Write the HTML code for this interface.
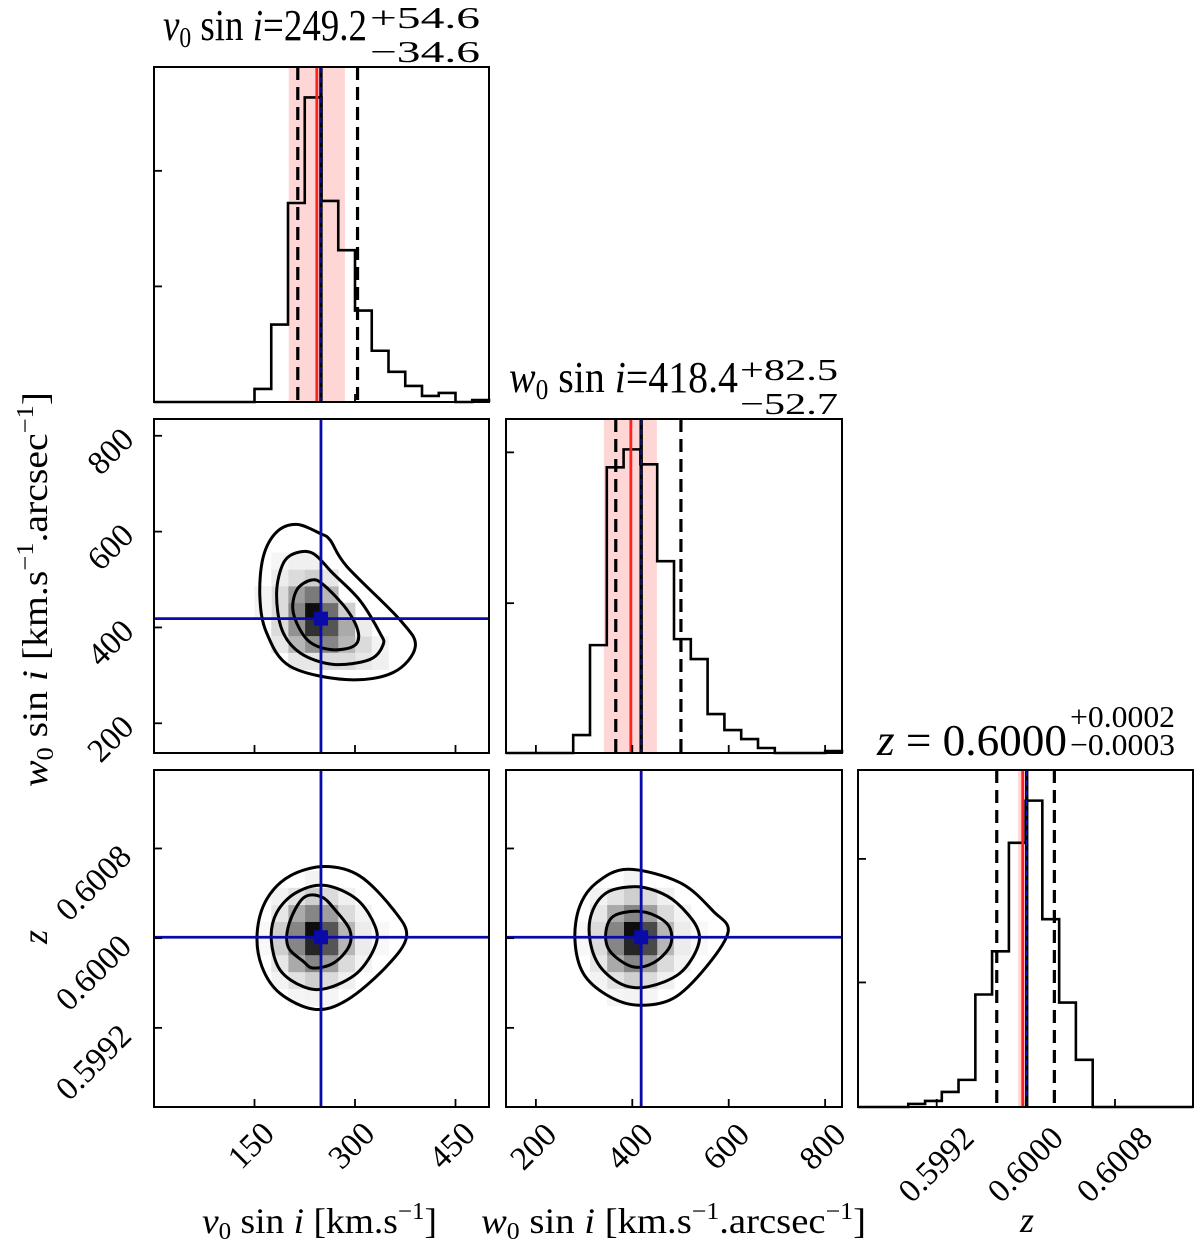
<!DOCTYPE html>
<html><head><meta charset="utf-8"><style>
html,body{margin:0;padding:0;background:#fff;}
svg{display:block;font-family:"Liberation Serif",serif;}
</style></head><body>
<svg id="fig" width="1200" height="1248" viewBox="0 0 1200 1248" xmlns="http://www.w3.org/2000/svg">
<g id="marks"></g>
<g id="frames"></g>
<!-- titles -->
<text font-size="44" x="163" y="40" textLength="204" lengthAdjust="spacingAndGlyphs"><tspan font-style="italic">v</tspan><tspan font-size="28" dy="7">0</tspan><tspan dy="-7"> sin </tspan><tspan font-style="italic">i</tspan><tspan>=249.2</tspan></text>
<text font-size="31" x="370" y="28" textLength="110" lengthAdjust="spacingAndGlyphs">+54.6</text>
<text font-size="31" x="370" y="62" textLength="110" lengthAdjust="spacingAndGlyphs">−34.6</text>

<text font-size="44" x="509" y="392" textLength="229" lengthAdjust="spacingAndGlyphs"><tspan font-style="italic">w</tspan><tspan font-size="28" dy="7">0</tspan><tspan dy="-7"> sin </tspan><tspan font-style="italic">i</tspan><tspan>=418.4</tspan></text>
<text font-size="31" x="740" y="380" textLength="98" lengthAdjust="spacingAndGlyphs">+82.5</text>
<text font-size="31" x="740" y="414" textLength="98" lengthAdjust="spacingAndGlyphs">−52.7</text>

<text font-size="44" x="877" y="755" textLength="190" lengthAdjust="spacingAndGlyphs"><tspan font-style="italic">z</tspan><tspan> = 0.6000</tspan></text>
<text font-size="31" x="1070" y="727" textLength="105" lengthAdjust="spacingAndGlyphs">+0.0002</text>
<text font-size="31" x="1070" y="755" textLength="105" lengthAdjust="spacingAndGlyphs">−0.0003</text>

<!-- axis labels -->
<text font-size="36" x="202" y="1233" textLength="235" lengthAdjust="spacingAndGlyphs"><tspan font-style="italic">v</tspan><tspan font-size="24" dy="6">0</tspan><tspan dy="-6"> sin </tspan><tspan font-style="italic">i</tspan><tspan> [km.s</tspan><tspan font-size="24" dy="-14">−1</tspan><tspan dy="14">]</tspan></text>
<text font-size="36" x="481" y="1233" textLength="385" lengthAdjust="spacingAndGlyphs"><tspan font-style="italic">w</tspan><tspan font-size="24" dy="6">0</tspan><tspan dy="-6"> sin </tspan><tspan font-style="italic">i</tspan><tspan> [km.s</tspan><tspan font-size="24" dy="-14">−1</tspan><tspan dy="14">.arcsec</tspan><tspan font-size="24" dy="-14">−1</tspan><tspan dy="14">]</tspan></text>
<text font-size="36" x="1027" y="1232" text-anchor="middle" font-style="italic">z</text>
<text font-size="36" transform="translate(47,787) rotate(-90)" x="0" y="0" textLength="395" lengthAdjust="spacingAndGlyphs"><tspan font-style="italic">w</tspan><tspan font-size="24" dy="6">0</tspan><tspan dy="-6"> sin </tspan><tspan font-style="italic">i</tspan><tspan> [km.s</tspan><tspan font-size="24" dy="-14">−1</tspan><tspan dy="14">.arcsec</tspan><tspan font-size="24" dy="-14">−1</tspan><tspan dy="14">]</tspan></text>
<text font-size="36" transform="translate(47,937) rotate(-90)" text-anchor="middle" font-style="italic">z</text>
</svg>
<script>
// ---- data ----
const vEdges = [0,25,50,75,100,125,150,175,200,225,250,275,300,325,350,375,400,425,450,475,500];
const vCounts = [0,0,0,0,0,0,13,77,198,303,200,151,91,51,30,16,6,9,0,2];
const wEdges = [138,172.85,207.7,242.55,277.4,312.25,347.1,381.95,416.8,451.65,486.5,521.35,556.2,591.05,625.9,660.75,695.6,730.45,765.3,800.15,835];
const wCounts = [0,0,0,0,18,108,286,304,289,192,114,94,39,23,14,5,0,0,0,2];
const zEdges = [0.598494,0.598644,0.598795,0.598945,0.599096,0.599246,0.599396,0.599547,0.599697,0.599848,0.599998,0.600148,0.600299,0.600449,0.600600,0.600750,0.600900,0.601051,0.601201,0.601352,0.6015];
const zCounts = [0,0,0,3,6,15,27,112,155,263,305,187,104,47,0,0,0,0,0,0];

const vTicks = [150,300,450];
const vTickLabels = ["150","300","450"];
const wTicks = [200,400,600,800];
const wTickLabels = ["200","400","600","800"];
const zTicks = [0.5992,0.6000,0.6008];
const zTickLabels = ["0.5992","0.6000","0.6008"];
const vHistTicks = [115,230];
const wHistTicks = [150,301];
const zHistTicks = [124,247];

const vTruth = 249.2, wTruth = 418.4, zTruth = 0.600008;
const vQuant = [214.6,303.8], wQuant = [365.7,500.9], zQuant = [0.599739,0.600256];
const vRed = 243, wRed = 397, zRed = 0.599972;
const vBand = [201,285], wBand = [341,451], zBand = [0.59993,0.60001];

const vwOuter = [[213,615],[183,599],[163,547],[158,464],[168,389],[203,319],[288,291],[357,306],[390,360],[367,416],[288,527],[263,582],[248,596]];
const vwMid = [[213,556],[238,554],[267,513],[307,457],[337,389],[342,364],[322,333],[267,323],[218,347],[191,395],[183,472],[193,534]];
const vwInner = [[235,499],[253,489],[288,437],[305,389],[298,361],[263,354],[229,374],[208,430],[213,478]];
const vzOuter = [[255,0.600639],[203,0.600555],[168,0.600345],[154,0.600047],[161,0.599747],[188,0.599508],[240,0.599365],[288,0.599448],[347,0.599747],[377,0.600016],[357,0.600256],[307,0.600555]];
const vzMid = [[255,0.600471],[212,0.600406],[183,0.600226],[175,0.599987],[188,0.599717],[223,0.599567],[258,0.599553],[303,0.599688],[330,0.599926],[330,0.600106],[303,0.600345]];
const vzInner = [[250,0.600368],[223,0.600359],[202,0.600136],[200,0.599926],[223,0.599792],[238,0.599733],[268,0.599778],[291,0.599926],[292,0.600076],[272,0.600240]];
const wzOuter = [[391,0.600615],[326,0.600495],[291,0.600285],[281,0.599987],[298,0.599688],[347,0.599493],[409,0.599403],[485,0.599463],[554,0.599747],[599,0.600061],[568,0.600240],[499,0.600495]];
const wzMid = [[402,0.600459],[347,0.600406],[316,0.600226],[312,0.599987],[333,0.599747],[381,0.599583],[433,0.599567],[499,0.599688],[536,0.599926],[533,0.600106],[492,0.600316],[450,0.600420]];
const wzInner = [[409,0.600240],[361,0.600196],[345,0.600047],[354,0.599882],[399,0.599747],[443,0.599778],[478,0.599926],[478,0.600091],[450,0.600196]];

const vwCells = [[9,8,1],[9,7,0.85],[10,7,0.7],[10,8,0.6],[8,8,0.5],[8,9,0.4],[9,9,0.55],[10,9,0.3],[8,7,0.45],[9,6,0.45],[10,6,0.5],[11,7,0.35],[11,6,0.3],[8,6,0.3],[7,8,0.15],[7,9,0.15],[8,10,0.15],[9,10,0.2],[7,7,0.15],[11,8,0.2],[12,6,0.15],[12,5,0.1],[11,5,0.15],[10,5,0.15],[9,5,0.1],[8,5,0.1],[7,10,0.08],[8,11,0.06],[9,11,0.06],[10,10,0.1],[13,5,0.06],[7,6,0.1],[6,8,0.05],[6,9,0.05],[7,11,0.04],[12,7,0.08],[13,6,0.05]];
const vzCells = [[9,10,1],[9,9,0.9],[10,10,0.7],[10,9,0.7],[8,10,0.5],[8,9,0.5],[9,11,0.5],[9,8,0.5],[10,11,0.4],[10,8,0.4],[8,11,0.35],[8,8,0.35],[11,10,0.3],[11,9,0.3],[7,10,0.2],[7,9,0.2],[9,12,0.2],[9,7,0.2],[10,12,0.15],[10,7,0.15],[8,12,0.12],[8,7,0.12],[11,11,0.15],[11,8,0.15],[12,10,0.08],[12,9,0.08],[7,11,0.1],[7,8,0.1],[11,12,0.06],[11,7,0.06],[7,12,0.05],[7,7,0.05],[9,13,0.05],[9,6,0.05],[10,6,0.04],[8,6,0.04],[12,11,0.05],[12,8,0.05],[13,10,0.03],[13,9,0.03],[6,10,0.03],[6,9,0.03]];
const wzCells = [[7,10,1],[7,9,0.9],[8,10,0.75],[8,9,0.75],[6,10,0.5],[6,9,0.5],[7,11,0.5],[7,8,0.5],[8,11,0.4],[8,8,0.4],[6,11,0.35],[6,8,0.35],[9,10,0.3],[9,9,0.3],[5,10,0.15],[5,9,0.15],[7,12,0.2],[7,7,0.2],[8,12,0.15],[8,7,0.15],[6,12,0.12],[6,7,0.12],[9,11,0.15],[9,8,0.15],[10,10,0.08],[10,9,0.08],[5,11,0.1],[5,8,0.1],[9,12,0.06],[9,7,0.06],[5,12,0.05],[5,7,0.05],[7,13,0.05],[7,6,0.05],[8,6,0.04],[6,6,0.04],[10,11,0.05],[10,8,0.05],[11,10,0.03],[11,9,0.03],[4,10,0.03],[4,9,0.03]];

// ---- geometry ----
const NS = "http://www.w3.org/2000/svg";
const cols = [[154,489],[506,842],[858,1193]];
const rows = [[67,402],[419,753],[770,1107]];
function lin(d0,d1,r0,r1){ return v => r0 + (v-d0)/(d1-d0)*(r1-r0); }
const vX = lin(0,500,cols[0][0],cols[0][1]);
const wX = lin(138,835,cols[1][0],cols[1][1]);
const zX = lin(0.598494,0.6015,cols[2][0],cols[2][1]);
const wY = lin(138,835,rows[1][1],rows[1][0]);
const zY = lin(0.598494,0.6015,rows[2][1],rows[2][0]);
const marks = document.getElementById('marks');
const frames = document.getElementById('frames');
function mk(tag, attrs, parent){
  const el = document.createElementNS(NS, tag);
  for (const k in attrs) el.setAttribute(k, attrs[k]);
  (parent||marks).appendChild(el);
  return el;
}
function smooth(pts){
  const n = pts.length; let d = 'M'+pts[0][0]+','+pts[0][1];
  for (let i=0;i<n;i++){
    const p0=pts[(i-1+n)%n], p1=pts[i], p2=pts[(i+1)%n], p3=pts[(i+2)%n];
    const c1=[p1[0]+(p2[0]-p0[0])/6, p1[1]+(p2[1]-p0[1])/6];
    const c2=[p2[0]-(p3[0]-p1[0])/6, p2[1]-(p3[1]-p1[1])/6];
    d += 'C'+c1[0]+','+c1[1]+' '+c2[0]+','+c2[1]+' '+p2[0]+','+p2[1];
  }
  return d+'Z';
}

// ---- 1D histograms ----
function hist(name, edges, counts, X, row, col, ticksY, quant, red, band, truth){
  const y0 = rows[row][1], y1 = rows[row][0];
  const maxC = Math.max(...counts) * 1.1;
  const Y = lin(0, maxC, y0, y1);
  const b = mk('rect', {x:X(band[0]), y:y1, width:X(band[1])-X(band[0]), height:y0-y1, fill:'#ffd6d6'});
  
  
  let d = 'M'+X(edges[0])+','+y0;
  for (let i=0;i<counts.length;i++){ d += 'L'+X(edges[i])+','+Y(counts[i])+'L'+X(edges[i+1])+','+Y(counts[i]); }
  d += 'L'+X(edges[edges.length-1])+','+y0;
  const h = mk('path', {d:d, fill:'none', stroke:'#000', 'stroke-width':2.6});
  
  
  quant.forEach((q,i)=>{
    const l = mk('line', {x1:X(q), x2:X(q), y1:y1, y2:y0, stroke:'#000', 'stroke-width':3.2, 'stroke-dasharray':'13,7'});
    
    
  });
  const r = mk('line', {x1:X(red), x2:X(red), y1:y1, y2:y0, stroke:'#ff2020', 'stroke-width':2.8});
  
  
  const t = mk('line', {x1:X(truth), x2:X(truth), y1:y1, y2:y0, stroke:'#000', 'stroke-width':3.4});
  
  
  const tb = mk('line', {x1:X(truth), x2:X(truth), y1:y1, y2:y0, stroke:'#1010c0', 'stroke-width':1.3, 'stroke-dasharray':'6,4'});
  
  
  ticksY.forEach(tv=>{
    const tk = mk('line', {x1:cols[col][0], x2:cols[col][0]+8, y1:Y(tv), y2:Y(tv), stroke:'#000', 'stroke-width':1.8}, frames);
    
    
  });
}
hist('v0-hist', vEdges, vCounts, vX, 0, 0, vHistTicks, vQuant, vRed, vBand, vTruth);
hist('w0-hist', wEdges, wCounts, wX, 1, 1, wHistTicks, wQuant, wRed, wBand, wTruth);
hist('z-hist', zEdges, zCounts, zX, 2, 2, zHistTicks, zQuant, zRed, zBand, zTruth);

// ---- 2D panels ----
function panel2d(name, cells, xEdges, yEdges, X, Y, conts, tx, ty, row, col){
  cells.forEach(c=>{
    const g = Math.round(255*(1-c[2]*0.95));
    const x0 = X(xEdges[c[0]]), x1 = X(xEdges[c[0]+1]);
    const ya = Y(yEdges[c[1]]), yb = Y(yEdges[c[1]+1]);
    const r = mk('rect', {x:x0, y:Math.min(ya,yb), width:x1-x0+0.4, height:Math.abs(ya-yb)+0.4, fill:'rgb('+g+','+g+','+g+')'});
    
    
  });
  conts.forEach((c,i)=>{
    const p = mk('path', {d:smooth(c.map(q=>[X(q[0]),Y(q[1])])), fill:'none', stroke:'#000', 'stroke-width':3});
    
    
  });
  const lv = mk('line', {x1:X(tx), x2:X(tx), y1:rows[row][0], y2:rows[row][1], stroke:'#0a0aa8', 'stroke-width':2.8});
  
  
  const lh = mk('line', {x1:cols[col][0], x2:cols[col][1], y1:Y(ty), y2:Y(ty), stroke:'#0a0aa8', 'stroke-width':2.8});
  
  
  const m = mk('rect', {x:X(tx)-7, y:Y(ty)-7, width:14, height:14, fill:'#0a0aa8'});
  
  
}
panel2d('v0-w0-panel', vwCells, vEdges, wEdges, vX, wY, [vwOuter,vwMid,vwInner], vTruth, wTruth, 1, 0);
panel2d('v0-z-panel', vzCells, vEdges, zEdges, vX, zY, [vzOuter,vzMid,vzInner], vTruth, zTruth, 2, 0);
panel2d('w0-z-panel', wzCells, wEdges, zEdges, wX, zY, [wzOuter,wzMid,wzInner], wTruth, zTruth, 2, 1);

// ---- frames & ticks ----
const panels = [[0,0],[1,0],[1,1],[2,0],[2,1],[2,2]];
panels.forEach(p=>{
  const r = mk('rect', {x:cols[p[1]][0], y:rows[p[0]][0], width:cols[p[1]][1]-cols[p[1]][0], height:rows[p[0]][1]-rows[p[0]][0], fill:'none', stroke:'#000', 'stroke-width':2}, frames);
  
  
});
const xAx = [[vX,vTicks],[wX,wTicks],[zX,zTicks]];
panels.forEach(p=>{
  const a = xAx[p[1]]; const yb = rows[p[0]][1];
  a[1].forEach(t=>{
    const tk = mk('line', {x1:a[0](t), x2:a[0](t), y1:yb, y2:yb-8, stroke:'#000', 'stroke-width':1.8}, frames);
    
    
  });
});
[[1,0,wY,wTicks],[2,0,zY,zTicks],[2,1,zY,zTicks]].forEach(q=>{
  q[3].forEach(t=>{
    const tk = mk('line', {x1:cols[q[1]][0], x2:cols[q[1]][0]+8, y1:q[2](t), y2:q[2](t), stroke:'#000', 'stroke-width':1.8}, frames);
    
    
  });
});
function rotLabel(name, txt, cx, cy){
  const t = mk('text', {x:0, y:0, 'font-size':33, 'text-anchor':'middle', 'dominant-baseline':'central', transform:'translate('+cx+','+cy+') rotate(-45)'}, frames);
  t.textContent = txt;
  
  
}
vTicks.forEach((t,i)=>rotLabel('x-tick-label-v0', vTickLabels[i], vX(t)-3, 1146));
wTicks.forEach((t,i)=>rotLabel('x-tick-label-w0', wTickLabels[i], wX(t)-2, 1147));
zTicks.forEach((t,i)=>rotLabel('x-tick-label-z', zTickLabels[i], zX(t), 1165));
wTicks.forEach((t,i)=>rotLabel('y-tick-label-w0', wTickLabels[i], 111, wY(t)+16));
zTicks.forEach((t,i)=>rotLabel('y-tick-label-z', zTickLabels[i], 94, zY(t)+35));
</script>
</body></html>
